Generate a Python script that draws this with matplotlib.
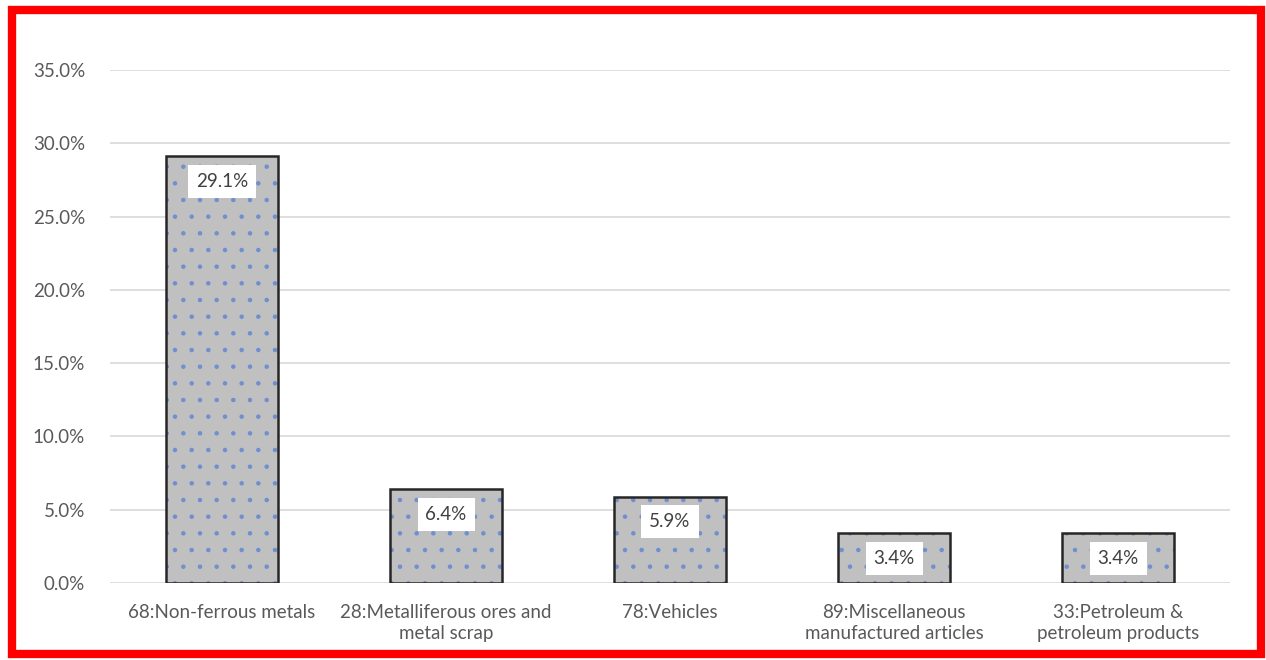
import matplotlib
matplotlib.use("Agg")
import matplotlib.pyplot as plt
from matplotlib.patches import Rectangle
from matplotlib.ticker import FuncFormatter, MultipleLocator

categories = [
    "68:Non-ferrous metals",
    "28:Metalliferous ores and\nmetal scrap",
    "78:Vehicles",
    "89:Miscellaneous\nmanufactured articles",
    "33:Petroleum &\npetroleum products",
]
shares = [29.1, 6.4, 5.9, 3.4, 3.4]
value_labels = ["29.1%", "6.4%", "5.9%", "3.4%", "3.4%"]

plt.rcParams["font.family"] = ["Lato", "DejaVu Sans"]
plt.rcParams["hatch.linewidth"] = 0.8

fig = plt.figure(figsize=(12.66, 6.6), dpi=100)
ax = fig.add_axes([0.0869, 0.1167, 0.8847, 0.7772])

x = list(range(len(categories)))
# dotted fill
ax.bar(x, shares, width=0.5, color="#C0C0C0", edgecolor="#6F8FD0",
       linewidth=0, hatch=".", zorder=2)
# outline
ax.bar(x, shares, width=0.5, fill=False, edgecolor="#262626",
       linewidth=1.8, zorder=3)

for xi, v, lab in zip(x, shares, value_labels):
    ax.annotate(lab, (xi, v), xytext=(0, -18), textcoords="offset points",
                ha="center", va="center", fontsize=13.5, color="#404040",
                bbox=dict(boxstyle="square,pad=0.42", fc="white", ec="none"),
                zorder=4)

ax.set_xlim(-0.5, len(categories) - 0.5)
ax.set_ylim(0, 35)
ax.yaxis.set_major_locator(MultipleLocator(5))
ax.yaxis.set_major_formatter(FuncFormatter(lambda v, p: f"{v:.1f}%"))
ax.grid(axis="y", color="#D9D9D9", linewidth=1.2, zorder=0)
ax.set_axisbelow(True)
for s in ax.spines.values():
    s.set_visible(False)
ax.set_xticks(x)
ax.set_xticklabels(categories, fontsize=13.5, color="#595959", linespacing=1.3)
ax.tick_params(axis="x", length=0, pad=15)
ax.tick_params(axis="y", length=0, pad=18, labelsize=13.5, labelcolor="#595959")

fig.patches.append(Rectangle((0.0095, 0.009), 0.9865, 0.976,
                             transform=fig.transFigure, fill=False,
                             edgecolor="#FF0000", linewidth=6))

fig.savefig("out.png", dpi=100)
